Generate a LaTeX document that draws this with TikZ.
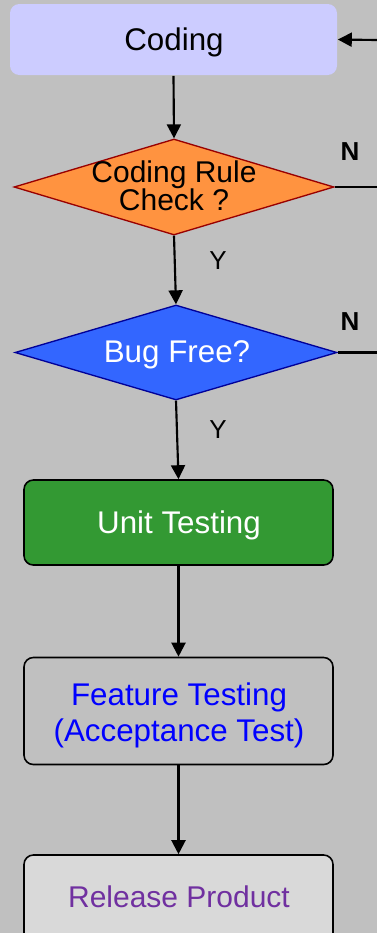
\documentclass[tikz,border=0pt]{standalone}
\usepackage{fontspec}
\setmainfont{Liberation Sans}
\usetikzlibrary{shapes.geometric,arrows.meta}
\definecolor{bggray}{HTML}{C0C0C0}
\definecolor{codefill}{HTML}{CCCCFF}
\definecolor{rulefill}{HTML}{FF9340}
\definecolor{ruleline}{HTML}{990000}
\definecolor{bugfill}{HTML}{3366FF}
\definecolor{bugline}{HTML}{000099}
\definecolor{unitfill}{HTML}{339933}
\definecolor{relfill}{HTML}{D9D9D9}
\definecolor{relpurple}{HTML}{7030A0}
\begin{document}
\begin{tikzpicture}[x=0.75pt,y=-0.75pt,
  box/.style={rectangle,rounded corners=7pt,draw=black,line width=1.2pt,
    minimum width=231.75pt,inner sep=0pt,font=\fontsize{23.5}{27}\selectfont,align=center},
  dia/.style={diamond,line width=1pt,inner sep=0pt},
  label/.style={inner sep=0pt,align=center},
  flow/.style={line width=1.6pt,-{Triangle[length=10.5pt,width=10.5pt]}},
  plain/.style={line width=1.6pt},
  yes/.style={font=\fontsize{19.5}{22}\selectfont},
  no/.style={font=\fontsize{19.5}{22}\selectfont\bfseries}]
\useasboundingbox (0,0) rectangle (377,933);
\clip (0,0) rectangle (377,933);
\fill[bggray] (0,0) rectangle (377,933);

% shapes
\node[box,draw=none,fill=codefill,minimum width=245.25pt,minimum height=53.25pt] (coding) at (173.5,39.5) {};
\node[dia,fill=rulefill,draw=ruleline,minimum width=240pt,minimum height=72pt] (rule) at (174,187) {};
\node[dia,fill=bugfill,draw=bugline,minimum width=241.5pt,minimum height=71.25pt] (bug) at (176,352.5) {};
\node[box,fill=unitfill,minimum height=63.75pt] (unit) at (178.5,522.5) {};
\node[box,fill=bggray,minimum height=80.25pt] (feature) at (178.5,711) {};
\node[box,fill=relfill,minimum height=67.5pt] (release) at (178.5,900) {};

% texts
\node[label,font=\fontsize{23.5}{27}\selectfont] (codingtxt) at (174,42) {Coding};
\node[label,font=\fontsize{22.5}{21}\selectfont] (ruletxt) at (174,186) {Coding Rule\\Check ?};
\node[label,font=\fontsize{23.5}{27}\selectfont,text=white] (bugtxt) at (177,355) {Bug Free?};
\node[label,font=\fontsize{23.5}{27}\selectfont,text=white] (unittxt) at (179,525) {Unit Testing};
\node[label,font=\fontsize{23.5}{27}\selectfont,text=blue] (featuretxt) at (179,715) {Feature Testing\\(Acceptance Test)};
\node[label,font=\fontsize{22.5}{26}\selectfont,text=relpurple] (releasetxt) at (179,897) {Release Product};

% loose ends at the right edge
\coordinate (back) at (377,40);
\coordinate (ruleout) at (377,187);
\coordinate (bugout) at (377,352.5);

% connectors
\draw[flow] (coding.south) -- (rule.north);
\draw[flow] (rule.south) -- (bug.north);
\draw[flow] (bug.south) -- (unit.north);
\draw[flow] (unit.south) -- (feature.north);
\draw[flow] (feature.south) -- (release.north);
\draw[flow] (back) -- (coding.east);
\draw[plain] (rule.east) -- (ruleout);
\draw[plain] (bug.east) -- (bugout);

% branch labels
\node[no] (n1) at (350,152) {N};
\node[no] (n2) at (350,322) {N};
\node[yes] (y1) at (218,261) {Y};
\node[yes] (y2) at (218,430) {Y};
\end{tikzpicture}
\end{document}
